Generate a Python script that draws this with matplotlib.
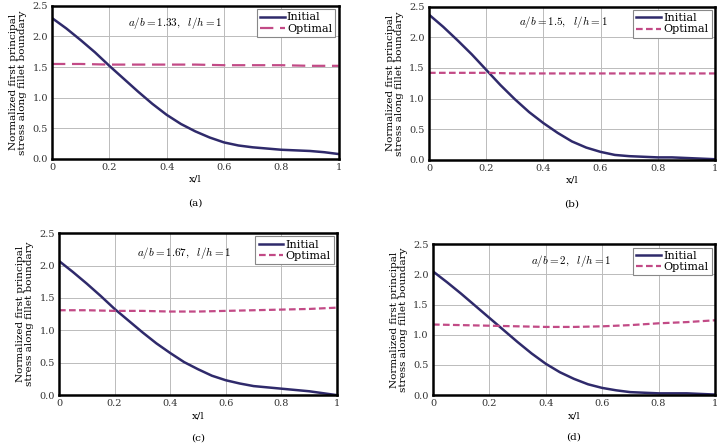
import numpy as np
from matplotlib import pyplot as plt

plt.rcParams['font.family'] = ['DejaVu Serif']
plt.rcParams['mathtext.fontset'] = 'cm'

# data
X = [0.0, 0.05, 0.1, 0.15, 0.2, 0.25, 0.3, 0.35, 0.4, 0.45, 0.5,
     0.55, 0.6, 0.65, 0.7, 0.75, 0.8, 0.85, 0.9, 0.95, 1.0]
XO = [0.0, 0.1, 0.2, 0.3, 0.4, 0.5, 0.6, 0.7, 0.8, 0.9, 1.0]

INITIAL_A = [2.30, 2.13, 1.94, 1.74, 1.52, 1.31, 1.10, 0.90, 0.72, 0.57, 0.45,
             0.35, 0.27, 0.22, 0.19, 0.17, 0.15, 0.14, 0.13, 0.11, 0.08]
OPTIMAL_A = [1.55, 1.55, 1.54, 1.54, 1.54, 1.54, 1.53, 1.53, 1.53, 1.52, 1.52]

INITIAL_B = [2.37, 2.17, 1.95, 1.72, 1.47, 1.22, 0.99, 0.78, 0.60, 0.44, 0.30,
             0.20, 0.13, 0.08, 0.06, 0.05, 0.04, 0.04, 0.03, 0.02, 0.01]
OPTIMAL_B = [1.42, 1.42, 1.42, 1.41, 1.41, 1.41, 1.41, 1.41, 1.41, 1.41, 1.41]

INITIAL_C = [2.07, 1.90, 1.72, 1.53, 1.33, 1.15, 0.97, 0.80, 0.65, 0.51, 0.40,
             0.30, 0.23, 0.18, 0.14, 0.12, 0.10, 0.08, 0.06, 0.03, 0.00]
OPTIMAL_C = [1.31, 1.31, 1.30, 1.30, 1.29, 1.29, 1.30, 1.31, 1.32, 1.33, 1.35]

INITIAL_D = [2.05, 1.87, 1.68, 1.48, 1.28, 1.08, 0.88, 0.69, 0.52, 0.38, 0.27,
             0.18, 0.12, 0.08, 0.05, 0.04, 0.03, 0.03, 0.03, 0.02, 0.01]
OPTIMAL_D = [1.17, 1.16, 1.15, 1.14, 1.13, 1.13, 1.14, 1.16, 1.19, 1.21, 1.24]

LABELS = ['Initial', 'Optimal']
NOTES = [r'$a/b=1.33,\ \ l/h=1$', r'$a/b=1.5,\ \ l/h=1$',
         r'$a/b=1.67,\ \ l/h=1$', r'$a/b=2,\ \ l/h=1$']
TAGS = ['(a)', '(b)', '(c)', '(d)']
XTICKS = [0, 0.2, 0.4, 0.6, 0.8, 1]
XTICKLABELS = ['0', '0.2', '0.4', '0.6', '0.8', '1']
YTICKS = [0.0, 0.5, 1.0, 1.5, 2.0, 2.5]

C_INIT = '#2f2a6b'
C_OPT = '#c24a86'

fig = plt.figure(figsize=(7.24, 4.44), dpi=100)

boxes = [(0.0718, 0.642, 0.396, 0.345),
         (0.5925, 0.640, 0.395, 0.345),
         (0.0815, 0.110, 0.384, 0.365),
         (0.598, 0.110, 0.3895, 0.340)]
series = [(INITIAL_A, OPTIMAL_A), (INITIAL_B, OPTIMAL_B),
          (INITIAL_C, OPTIMAL_C), (INITIAL_D, OPTIMAL_D)]
notepos = [(0.43, 0.89), (0.47, 0.90), (0.45, 0.88), (0.49, 0.89)]
tagpos = [-0.29, -0.29, -0.265, -0.28]
dashes = [(6, 3), (3, 1.5), (3, 1.5), (3, 1.5)]

for i in range(4):
    ax = fig.add_axes(boxes[i])
    ini, opt = series[i]
    ax.plot(X, ini, color=C_INIT, lw=1.8, label=LABELS[0])
    ax.plot(XO, opt, color=C_OPT, lw=1.6, dashes=dashes[i], label=LABELS[1])
    ax.set_xlim(0, 1)
    ax.set_ylim(0, 2.5)
    ax.set_xticks(XTICKS)
    ax.set_xticklabels(XTICKLABELS)
    ax.set_yticks(YTICKS)
    ax.set_yticklabels(['%.1f' % v for v in YTICKS])
    ax.grid(True, color='#bbbbbb', lw=0.7)
    ax.set_axisbelow(True)
    ax.tick_params(labelsize=7, length=0, pad=3, colors='#333333')
    for s in ax.spines.values():
        s.set_linewidth(1.8)
    ax.set_xlabel('x/l', fontsize=7.5, labelpad=2)
    ax.set_ylabel('Normalized first principal\nstress along fillet boundary',
                  fontsize=7.5, labelpad=4, linespacing=1.0)
    ax.text(notepos[i][0], notepos[i][1], NOTES[i], transform=ax.transAxes,
            ha='center', va='center', fontsize=8)
    ax.text(0.5, tagpos[i], TAGS[i], transform=ax.transAxes,
            ha='center', va='center', fontsize=7.5)
    leg = ax.legend(loc='upper right', fontsize=8, handlelength=2.2,
                    handletextpad=0.2, borderpad=0.3, labelspacing=0.1,
                    fancybox=False, framealpha=1, borderaxespad=0.3)
    leg.get_frame().set_edgecolor('#888888')
    leg.get_frame().set_linewidth(0.8)

plt.savefig('out.png', dpi=100)
